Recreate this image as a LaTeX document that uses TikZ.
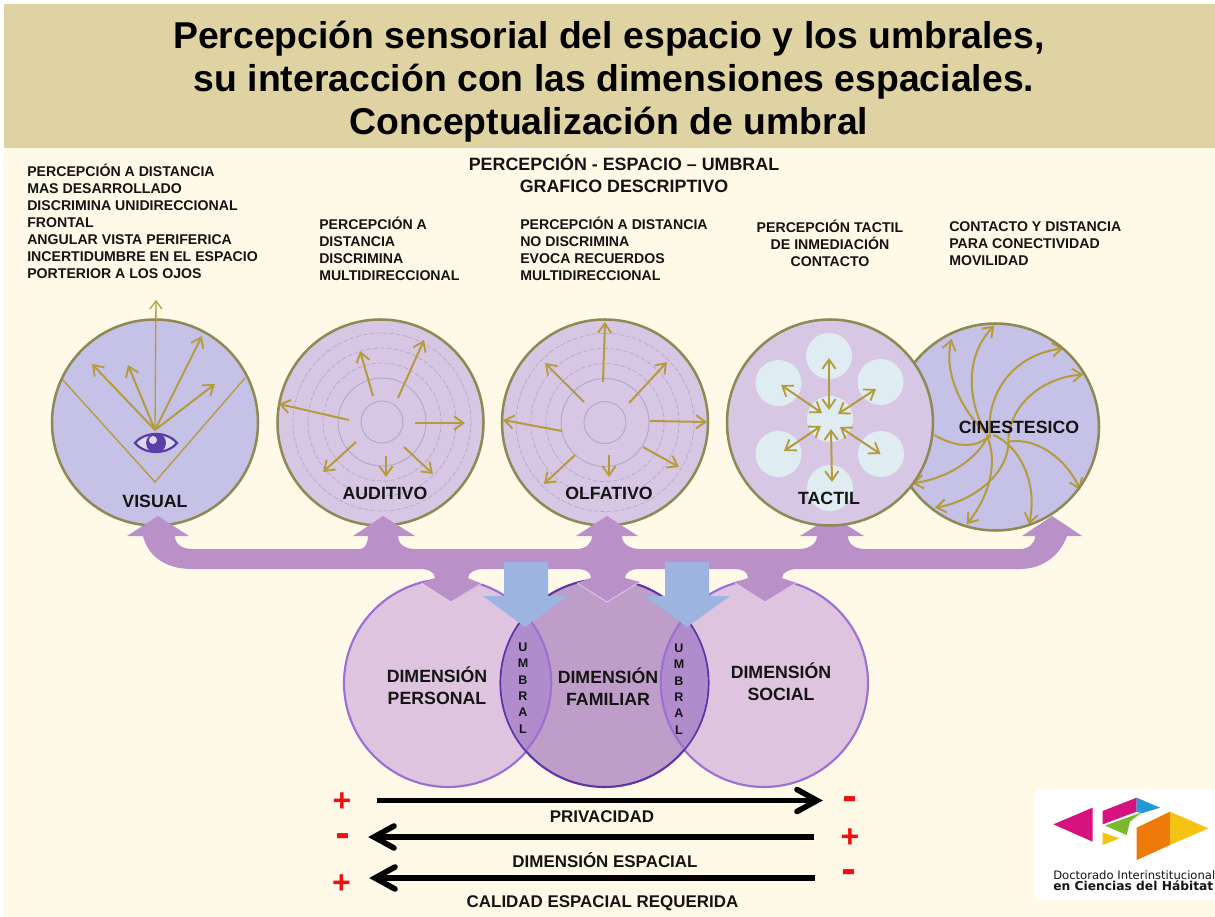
\documentclass[tikz,border=0pt]{standalone}
\usepackage{fontspec}
\setmainfont{Liberation Sans}
\newfontfamily\logofont{DejaVu Sans}
\usetikzlibrary{arrows.meta}
\definecolor{cream}{HTML}{FFF9E8}
\definecolor{titlebg}{HTML}{E0D3A3}
\definecolor{ringcol}{HTML}{8F8A55}
\definecolor{goldc}{HTML}{B49B3C}
\definecolor{bluefill}{HTML}{C6C1E6}
\definecolor{lilacfill}{HTML}{D8C6E5}
\definecolor{palecirc}{HTML}{DFEDF2}
\definecolor{guide}{HTML}{B3A8C2}
\definecolor{bandc}{HTML}{BA90C8}
\definecolor{bluearrow}{HTML}{9DB4E0}
\definecolor{vpers}{HTML}{DEC4DE}
\definecolor{vfam}{HTML}{BE9EC8}
\definecolor{vlens}{HTML}{B08CCC}
\definecolor{vedge}{HTML}{9B6FD4}
\definecolor{vdark}{HTML}{5E35A6}
\definecolor{eyec}{HTML}{5B3FA6}
\definecolor{inkc}{HTML}{141414}
\definecolor{signred}{HTML}{F01010}
\definecolor{logomag}{HTML}{D6127F}
\definecolor{logoblue}{HTML}{1F9AD6}
\definecolor{logogreen}{HTML}{7AB82E}
\definecolor{logoyel}{HTML}{F5C311}
\definecolor{logoor}{HTML}{EE7A0A}
\tikzset{
  smalltext/.style={inner sep=0pt,font=\fontsize{10.6}{12.75}\selectfont\bfseries,text=inkc},
  bigcirc/.style={draw=ringcol,line width=1.9pt},
  ga/.style={draw=goldc,line width=1.5pt,-{Straight Barb[length=7pt,width=10pt,line width=1.4pt]}},
  gb/.style={draw=goldc,line width=1.5pt,{Straight Barb[length=7pt,width=10pt,line width=1.4pt]}-{Straight Barb[length=7pt,width=10pt,line width=1.4pt]}},
  dashring/.style={draw=guide,line width=.5pt,dash pattern=on 3.5pt off 1.5pt},
  solidring/.style={draw=guide,line width=.7pt},
  label/.style={inner sep=0pt,font=\fontsize{13.3}{16}\selectfont\bfseries,text=inkc},
  lowlabel/.style={inner sep=0pt,font=\fontsize{12.7}{16}\selectfont\bfseries,text=inkc},
  dimlabel/.style={inner sep=0pt,align=center,font=\fontsize{13.3}{16.5}\selectfont\bfseries,text=inkc},
  umbral/.style={inner sep=0pt,align=center,font=\fontsize{9.4}{12.3}\selectfont\bfseries,text=inkc},
  blackarrow/.style={line width=4.4pt,draw=black},
  chev/.style={line width=4.2pt,draw=black,line cap=round,line join=miter},
  plussign/.style={inner sep=0pt,text=signred,font=\fontsize{24}{24}\selectfont\bfseries},
  minussign/.style={inner sep=0pt,text=signred,font=\logofont\bfseries\fontsize{27}{27}\selectfont},
}
\begin{document}
\begin{tikzpicture}[x=0.75pt,y=-0.75pt]
\useasboundingbox (0,0) rectangle (1215,917);
\fill[white] (0,0) rectangle (1215,917);
\fill[cream] (3,148) rectangle (1215,917);
\fill[titlebg] (4,4) rectangle (1215,148);
\node[inner sep=0pt,align=center,font=\fontsize{28}{32.25}\selectfont\bfseries] (title) at (609,81.5)
 {Percepción sensorial del espacio y los umbrales,\\ \hspace*{7.5pt}su interacción con las dimensiones espaciales.\\ Conceptualización de umbral};

% header and descriptions
\node[smalltext,align=center,font=\fontsize{13.4}{16.5}\selectfont\bfseries] (head) at (624,173.5) {PERCEPCIÓN - ESPACIO – UMBRAL\\GRAFICO DESCRIPTIVO};
\node[smalltext,align=left,anchor=north west] (d1) at (27,164) {PERCEPCIÓN A DISTANCIA\\MAS DESARROLLADO\\DISCRIMINA UNIDIRECCIONAL\\FRONTAL\\ANGULAR VISTA PERIFERICA\\INCERTIDUMBRE EN EL ESPACIO\\PORTERIOR A LOS OJOS};
\node[smalltext,align=left,anchor=north west] (d2) at (319,217) {PERCEPCIÓN A\\DISTANCIA\\DISCRIMINA\\MULTIDIRECCIONAL};
\node[smalltext,align=left,anchor=north west] (d3) at (520,217) {PERCEPCIÓN A DISTANCIA\\NO DISCRIMINA\\EVOCA RECUERDOS\\MULTIDIRECCIONAL};
\node[smalltext,align=center,anchor=north] (d4) at (830,220) {PERCEPCIÓN TACTIL\\DE INMEDIACIÓN\\CONTACTO};
\node[smalltext,align=left,anchor=north west] (d5) at (949,221) {CONTACTO Y DISTANCIA\\PARA CONECTIVIDAD\\MOVILIDAD};

% cinestesico
\fill[bluefill] (995.5,427) circle[radius=103.5];
\begin{scope}[shift={(905,315)},x=0.25pt,y=-0.25pt]
\draw[ga] (245,355) .. controls (170,290) and (115,170) .. (140,72);
\draw[ga] (245,355) .. controls (195,280) and (170,130) .. (268,32);
\draw[ga] (255,370) .. controls (240,240) and (320,120) .. (475,100);
\draw[ga] (310,380) .. controls (310,280) and (400,190) .. (535,178);
\draw[ga] (310,380) .. controls (400,365) and (490,440) .. (525,525);
\draw[draw=goldc,line width=1.5pt] (88,360) .. controls (130,385) and (200,410) .. (250,365);
\draw[ga] (265,360) .. controls (340,390) and (400,500) .. (372,628);
\draw[ga] (245,360) .. controls (280,440) and (255,540) .. (185,628);
\draw[ga] (310,380) .. controls (310,480) and (200,560) .. (90,578);
\draw[ga] (250,360) .. controls (220,430) and (130,490) .. (22,505);
\end{scope}
\draw[bigcirc] (995.5,427) circle[radius=103.5];

% visual
\filldraw[fill=bluefill,bigcirc] (155,422.5) circle[radius=103];
\draw[draw=goldc,line width=1pt] (62,379) -- (155,482) -- (245,378);
\draw[draw=goldc!55!white,line width=.7pt] (141,462) .. controls (150,455) and (162,455) .. (171,462);
\draw[draw=goldc,line width=1pt,-{Straight Barb[length=6pt,width=9pt,line width=.9pt]}] (155,430) -- (156,300);
\draw[ga] (155,430) -- (92,364);
\draw[ga] (155,430) -- (128,365);
\draw[ga] (155,430) -- (202,336);
\draw[ga] (155,430) -- (215,384);
\draw[draw=eyec,fill=bluefill!60!white,line width=1.7pt] (135,443) .. controls (145,431) and (167,431) .. (177,443) .. controls (167,455) and (145,455) .. (135,443) -- cycle;
\fill[eyec] (156,443) circle[radius=10];
\fill[bluefill!60!white] (153,440) circle[radius=4];

% auditivo
\filldraw[fill=lilacfill,bigcirc] (380.5,422.5) circle[radius=103];
\foreach \r in {59,74,89}{\draw[dashring] (382,422) circle[radius=\r];}
\draw[solidring] (382,422) circle[radius=44];
\draw[solidring] (382,422) circle[radius=21];
\draw[ga] (349,420) -- (279,404);
\draw[ga] (373,396) -- (360,351);
\draw[ga] (398,398) -- (424,340);
\draw[ga] (415,423) -- (465,423);
\draw[ga] (404,447) -- (433,474);
\draw[ga] (386,456) -- (386,477);
\draw[ga] (356,442) -- (323,472);

% olfativo
\filldraw[fill=lilacfill,bigcirc] (605,422.5) circle[radius=103];
\foreach \r in {59,74,89}{\draw[dashring] (605,422.5) circle[radius=\r];}
\draw[solidring] (605,422.5) circle[radius=44];
\draw[solidring] (605,422.5) circle[radius=21];
\draw[ga] (603,382) -- (605,322);
\draw[ga] (584,402) -- (545,363);
\draw[ga] (629,403) -- (667,362);
\draw[ga] (650,421) -- (707,422);
\draw[ga] (562,431) -- (503,420);
\draw[ga] (575,455) -- (544,484);
\draw[ga] (609,455) -- (609,477);
\draw[ga] (643,447) -- (679,467);

% venn
\filldraw[fill=vpers,draw=vedge,line width=1.6pt] (448,683) circle[radius=104];
\filldraw[fill=vpers,draw=vedge,line width=1.6pt] (764,683) circle[radius=104];
\filldraw[fill=vfam,draw=vdark,line width=1.6pt] (604.5,683) circle[radius=104];
\begin{scope}
\clip (604.5,683) circle[radius=103.2];
\filldraw[fill=vlens,draw=vedge,line width=1.6pt] (448,683) circle[radius=103.2];
\end{scope}
\begin{scope}
\clip (604.5,683) circle[radius=103.2];
\filldraw[fill=vlens,draw=vedge,line width=1.6pt] (764,683) circle[radius=103.2];
\end{scope}

% band of arrows
\fill[bandc] (158,516) -- (189,536) -- (175,536)
 .. controls (175,544) and (182,549) .. (192,549) -- (360,549)
 .. controls (364,549) and (368,544) .. (368,536) -- (353,536) -- (383,516) -- (415,536) -- (398,536)
 .. controls (398,544) and (405,549) .. (415,549) -- (577,549)
 .. controls (585,549) and (592,544) .. (592,536) -- (576,536) -- (607,516) -- (638,536) -- (622,536)
 .. controls (622,544) and (630,549) .. (640,549) -- (800,549)
 .. controls (808,549) and (817,544) .. (817,536) -- (800,536) -- (832,516) -- (864,536) -- (848,536)
 .. controls (848,544) and (855,549) .. (865,549) -- (1020,549)
 .. controls (1028,549) and (1035,544) .. (1035,536) -- (1022,536) -- (1052,516) -- (1082,536) -- (1067,536)
 .. controls (1060,556) and (1042,569) .. (1020,569) -- (797,569)
 .. controls (790,569) and (782,572) .. (782,578) -- (797,583) -- (765,602) -- (735,583) -- (748,578)
 .. controls (748,572) and (742,569) .. (735,569) -- (638,569)
 .. controls (632,569) and (625,572) .. (625,578) -- (640,582) -- (607,602) -- (577,583) -- (591,578)
 .. controls (591,572) and (585,569) .. (577,569) -- (483,569)
 .. controls (476,569) and (468,572) .. (468,578) -- (482,584) -- (451,602) -- (422,583) -- (435,578)
 .. controls (435,572) and (428,569) .. (420,569) -- (192,569)
 .. controls (165,569) and (148,556) .. (143,536) -- (127,536) -- cycle;
\foreach \a in {451,607,765}{\draw[draw=white!55!bandc,line width=.6pt] (\a-30,583) -- (\a,602) -- (\a+31,583);}

% tactil on top
\filldraw[fill=lilacfill,bigcirc] (830,422.5) circle[radius=103];
\foreach \p in {(829,356),(778.5,383),(880.5,382),(830,419),(778.5,454),(881,454),(830,488)}{\fill[palecirc] \p circle[radius=23];}
\draw[gb] (829,358) -- (829,410);
\draw[gb] (781,385) -- (822,413);
\draw[gb] (876,389) -- (838,414);
\draw[gb] (821,426) -- (784,451);
\draw[gb] (840,427) -- (880.5,454);
\draw[gb] (831,429) -- (832,482);

% blue arrows
\fill[bluearrow] (504,562) -- (548,562) -- (548,596) -- (568,596) -- (525,627) -- (483,596) -- (504,596) -- cycle;
\fill[bluearrow] (665,562) -- (709,562) -- (709,596) -- (730,596) -- (687,627) -- (645,596) -- (665,596) -- cycle;

% sense labels
\node[label] (visual) at (155,501) {VISUAL};
\node[label] (auditivo) at (385,493) {AUDITIVO};
\node[label] (olfativo) at (609,493) {OLFATIVO};
\node[label] (tactil) at (829,498) {TACTIL};
\node[label] (cinest) at (1019,427) {CINESTESICO};

% dimension labels
\node[dimlabel] (dp) at (437,686) {DIMENSIÓN\\PERSONAL};
\node[dimlabel] (df) at (608,687) {DIMENSIÓN\\FAMILIAR};
\node[dimlabel] (ds) at (781,682) {DIMENSIÓN\\SOCIAL};
\node[umbral] (u1) at (523,688) {U\\M\\B\\R\\A\\L};
\node[umbral] (u2) at (679,689) {U\\M\\B\\R\\A\\L};

% bottom arrows
\coordinate (a1s) at (377,800.5); \coordinate (a1e) at (817,800.5);
\coordinate (a2s) at (814,837); \coordinate (a2e) at (374,837);
\coordinate (a3s) at (815,878); \coordinate (a3e) at (375,878);
\draw[blackarrow] (a1s) -- (a1e);
\draw[blackarrow] (a2s) -- (a2e);
\draw[blackarrow] (a3s) -- (a3e);
\draw[chev] ([shift={(-20,-11)}]a1e) -- (a1e) -- ([shift={(-20,11)}]a1e);
\draw[chev] ([shift={(20,-11)}]a2e) -- (a2e) -- ([shift={(20,11)}]a2e);
\draw[chev] ([shift={(20,-11)}]a3e) -- (a3e) -- ([shift={(20,11)}]a3e);
\node[lowlabel] (l1) at (602,817) {PRIVACIDAD};
\node[lowlabel] (l2) at (605,860) {DIMENSIÓN ESPACIAL};
\node[lowlabel] (l3) at (602.5,903) {CALIDAD ESPACIAL REQUERIDA};
\node[plussign] (s1) at (342,802) {+};
\node[minussign] (s2) at (343,840) {-};
\node[plussign] (s3) at (341.5,884) {+};
\node[minussign] (s4) at (850,803) {-};
\node[plussign] (s5) at (850,838) {+};
\node[minussign] (s6) at (848.5,876) {-};

% logo
\fill[white] (1035,789) rectangle (1215,900);
\begin{scope}[shift={(1030,785)},x=0.25pt,y=-0.25pt]
\fill[logomag] (70,118) -- (188,68) -- (188,170) -- cycle;
\fill[logomag] (218,78) -- (320,38) -- (320,80) -- (218,118) -- cycle;
\fill[logoblue] (320,38) -- (390,68) -- (335,85) -- (320,80) -- cycle;
\fill[logogreen] (225,122) -- (335,82) -- (300,110) -- (290,150) -- cycle;
\fill[logoyel] (218,142) -- (268,160) -- (218,180) -- cycle;
\fill[logoor] (320,128) -- (420,80) -- (420,180) -- (320,225) -- cycle;
\fill[logoyel] (420,80) -- (535,130) -- (420,180) -- cycle;
\end{scope}
\node[inner sep=0pt,anchor=west,font=\logofont\fontsize{8.7}{9}\selectfont,text=inkc] (lg1) at (1053,875) {Doctorado Interinstitucional};
\node[inner sep=0pt,anchor=west,font=\logofont\bfseries\fontsize{9.2}{9}\selectfont,text=inkc] (lg2) at (1053,885.5) {en Ciencias del Hábitat};
\end{tikzpicture}
\end{document}
